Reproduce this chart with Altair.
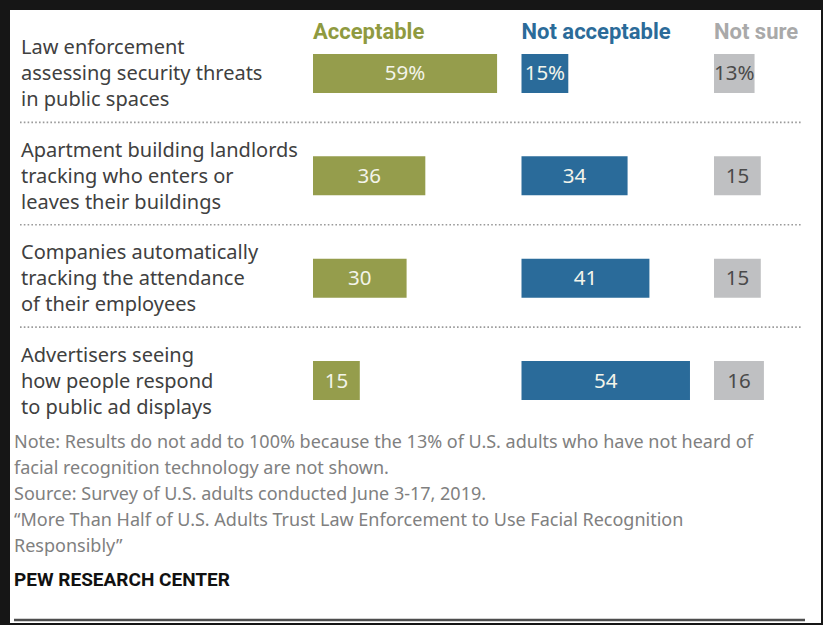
import altair as alt
import pandas as pd

# ---- data ----
categories = [
    "Law enforcement\nassessing security threats\nin public spaces",
    "Apartment building landlords\ntracking who enters or\nleaves their buildings",
    "Companies automatically\ntracking the attendance\nof their employees",
    "Advertisers seeing\nhow people respond\nto public ad displays",
]
responses = ["Acceptable", "Not acceptable", "Not sure"]
acceptable = [59, 36, 30, 15]
not_acceptable = [15, 34, 41, 54]
not_sure = [13, 15, 15, 16]

note_lines = [
    "Note: Results do not add to 100% because the 13% of U.S. adults who have not heard of",
    "facial recognition technology are not shown.",
    "Source: Survey of U.S. adults conducted June 3-17, 2019.",
    "\u201cMore Than Half of U.S. Adults Trust Law Enforcement to Use Facial Recognition",
    "Responsibly\u201d",
]
source_label = "PEW RESEARCH CENTER"

# ---- layout / style (kept out of the data arrays) ----
W, H = 823, 625
PX_PER_UNIT = 3.12
col_start_px = {"Acceptable": 313, "Not acceptable": 521.5, "Not sure": 714}
bar_colors = ["#959d4c", "#2a6b9a", "#bfc0c2"]
head_colors = ["#8f9a40", "#2b6b99", "#a9a9a9"]
TEXT_FONT = "Noto Sans"
HEAD_FONT = "Roboto"

series = {"Acceptable": acceptable, "Not acceptable": not_acceptable, "Not sure": not_sure}
rows = []
for r in responses:
    for i, c in enumerate(categories):
        v = series[r][i]
        rows.append({
            "cat": c,
            "resp": r,
            "value": v,
            "label": f"{v}%" if i == 0 else f"{v}",
            "offset": col_start_px[r] / PX_PER_UNIT,
        })
df = pd.DataFrame(rows)
head_df = pd.DataFrame({"resp": responses,
                        "offset": [col_start_px[r] / PX_PER_UNIT for r in responses]})
cat_df = pd.DataFrame({"cat": categories})
sep_df = pd.DataFrame({"cat": categories[:-1]})

xscale = alt.Scale(domain=[0, W / PX_PER_UNIT], range=[0, W], nice=False, zero=False)
yscale = alt.Scale(domain=categories, range=[54, 400], paddingInner=0.62, paddingOuter=0)

frame = alt.Chart(alt.Data(values=[{}])).mark_rect(color="white").encode(
    x=alt.value(10), x2=alt.value(821), y=alt.value(10), y2=alt.value(623)
)

base = alt.Chart(df).transform_calculate(
    end="datum.offset + datum.value",
    mid="datum.offset + datum.value / 2",
)

bars = base.mark_rect().encode(
    x=alt.X("offset:Q", scale=xscale, axis=None),
    x2="end:Q",
    y=alt.Y("cat:N", scale=yscale, axis=None),
    color=alt.Color("resp:N", scale=alt.Scale(domain=responses, range=bar_colors), legend=None),
)

labels = base.mark_text(font=TEXT_FONT, fontSize=20.5, align="center", baseline="middle", dy=1).encode(
    x=alt.X("mid:Q", scale=xscale, axis=None),
    y=alt.Y("cat:N", scale=yscale, axis=None, bandPosition=0.5),
    text="label:N",
    color=alt.condition(alt.datum.resp == "Not sure", alt.value("#4a4a4a"), alt.value("#f3f4ea")),
)

heads = alt.Chart(head_df).mark_text(
    font=HEAD_FONT, fontSize=22, fontWeight="bold", align="left", baseline="alphabetic"
).encode(
    x=alt.X("offset:Q", scale=xscale, axis=None),
    y=alt.value(39),
    text="resp:N",
    fill=alt.Fill("resp:N", scale=alt.Scale(domain=responses, range=head_colors), legend=None),
)

cat_text = alt.Chart(cat_df).mark_text(
    font=TEXT_FONT, fontSize=20, align="left", baseline="middle", lineBreak="\n",
    lineHeight=26, color="#404040", dy=-25
).encode(
    x=alt.value(21),
    y=alt.Y("cat:N", scale=yscale, axis=None, bandPosition=0.5),
    text="cat:N",
)

seps = alt.Chart(sep_df).mark_rule(
    color="#9a9a9a", strokeWidth=1.6, strokeDash=[1.6, 2.2], yOffset=29.5
).encode(
    x=alt.value(20), x2=alt.value(801),
    y=alt.Y("cat:N", scale=yscale, axis=None, bandPosition=1),
)

notes = alt.Chart(alt.Data(values=[{"t": "\n".join(note_lines)}])).mark_text(
    font=TEXT_FONT, fontSize=18, align="left", baseline="middle", lineBreak="\n",
    lineHeight=26, color="#808080"
).encode(x=alt.value(14), y=alt.value(443), text="t:N")

pew = alt.Chart(alt.Data(values=[{"t": source_label}])).mark_text(
    font=HEAD_FONT, fontSize=19, fontWeight="bold", align="left", baseline="middle", color="#111111"
).encode(x=alt.value(14), y=alt.value(580), text="t:N")

bottom = alt.Chart(alt.Data(values=[{}])).mark_rule(color="#4d4d4d", strokeWidth=2.5).encode(
    x=alt.value(14), x2=alt.value(805), y=alt.value(620)
)

chart = alt.layer(frame, seps, bars, labels, heads, cat_text, notes, pew, bottom).properties(
    width=W, height=H, background="#161616",
    autosize=alt.AutoSizeParams(type="none"), padding=0,
).configure_view(stroke=None)

chart.save("out.html", embed_options={"renderer": "svg", "actions": False})
